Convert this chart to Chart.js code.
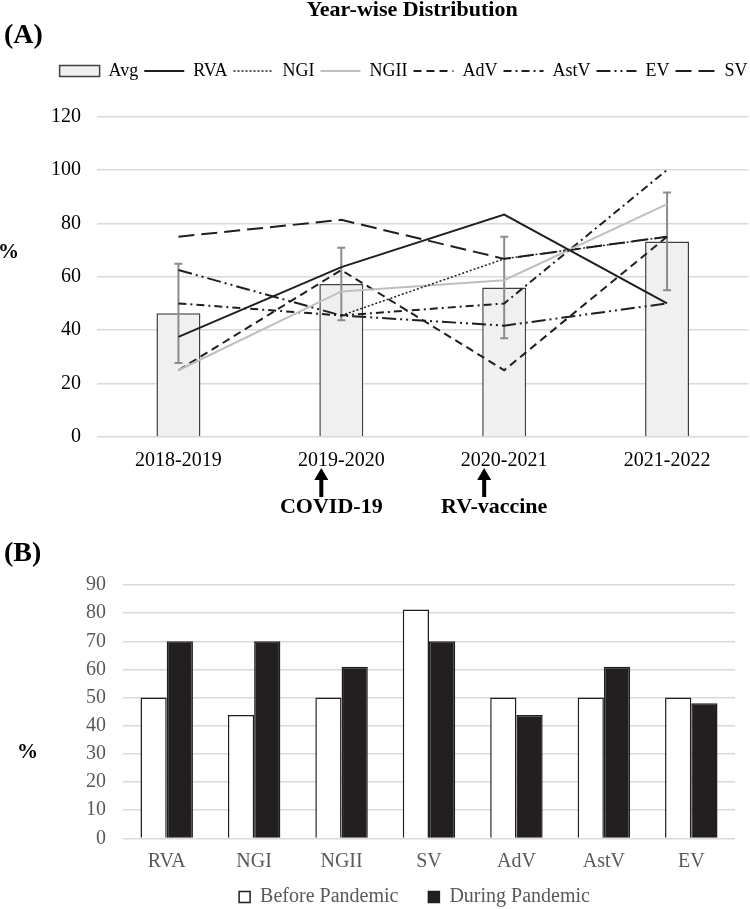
<!DOCTYPE html>
<html>
<head>
<meta charset="utf-8">
<script src="https://cdn.jsdelivr.net/npm/chart.js@4.4.1/dist/chart.umd.min.js"></script>
<style>
  html, body { margin: 0; padding: 0; background: #fff; overflow: hidden; }
  .panel { position: absolute; left: 0; width: 750px; }
  #panelA { top: 0; height: 530px; }
  #panelB { top: 530px; height: 379px; }
</style>
</head>
<body>
<div class="panel" id="panelA"><canvas id="chartA" width="750" height="530"></canvas></div>
<div class="panel" id="panelB"><canvas id="chartB" width="750" height="379"></canvas></div>
<script>
// ========== DATA ==========
const SEASONS = ["2018-2019", "2019-2020", "2020-2021", "2021-2022"];
const AVG = [46.3, 57.3, 56.0, 73.2];
const AVG_ERR = [18.6, 13.6, 19.0, 18.3];
const RVA = [37.5, 63.6, 83.3, 50];
const NGI = [null, 45.5, 66.7, 75];
const NGII = [25, 54.5, 58.7, 87.2];
const ADV = [25, 62.5, 25, 75];
const ASTV = [50, 45.5, 50, 100];
const EV = [62.5, 45.5, 41.7, 50];
const SV = [75, 81.3, 66.7, 75];
const EVENT_SEASONS = ["2019-2020", "2020-2021"];
const EVENT_LABELS = ["COVID-19", "RV-vaccine"];

const VIRUSES = ["RVA", "NGI", "NGII", "SV", "AdV", "AstV", "EV"];
const BEFORE = [50, 43.8, 50, 81.3, 50, 50, 50];
const DURING = [70, 70, 61, 70, 43.8, 61, 48];

// ========== STYLES ==========
const SERIF = "'Liberation Serif', 'Times New Roman', serif";
const GRID = "#d9d9d9";
const INK = "#1f1f1f";
Chart.defaults.font.family = SERIF;

const lineDataset = (label, data, color, dash, width) => ({
  type: "line",
  label,
  data,
  borderColor: color,
  backgroundColor: color,
  borderDash: dash,
  borderWidth: width,
  pointRadius: 0,
  tension: 0,
  fill: false,
  spanGaps: false,
  order: 1,
});

// ========== PLUGINS ==========
// resizes / moves the built-in legend box
const legendPlace = {
  id: "legendPlace",
  beforeInit(chart, args, opts) {
    const fit = chart.legend.fit;
    chart.legend.fit = function () {
      fit.call(this);
      this.height += opts.extra || 0;
    };
  },
  afterLayout(chart, args, opts) {
    const lg = chart.legend;
    const dx = opts.dx || 0;
    lg.left += dx;
    lg.right += dx;
    lg.top += opts.dtop || 0;
    lg.bottom += opts.dbottom || 0;
  },
};

const errorBars = {
  id: "errorBars",
  afterDatasetDraw(chart, args, opts) {
    if (args.index !== 0) {
      return;
    }
    const { ctx } = chart;
    const x = chart.scales.x;
    const y = chart.scales.y;
    ctx.save();
    ctx.strokeStyle = opts.color;
    ctx.lineWidth = opts.width;
    AVG.forEach((v, i) => {
      const px = x.getPixelForValue(i);
      const top = y.getPixelForValue(v + AVG_ERR[i]);
      const bot = y.getPixelForValue(v - AVG_ERR[i]);
      ctx.beginPath();
      ctx.moveTo(px, top);
      ctx.lineTo(px, bot);
      ctx.moveTo(px - opts.cap, top);
      ctx.lineTo(px + opts.cap, top);
      ctx.moveTo(px - opts.cap, bot);
      ctx.lineTo(px + opts.cap, bot);
      ctx.stroke();
    });
    ctx.restore();
  },
};

const decorA = {
  id: "decorA",
  afterDraw(chart) {
    const { ctx } = chart;
    const x = chart.scales.x;
    ctx.save();
    ctx.fillStyle = "#000";
    ctx.textBaseline = "alphabetic";
    ctx.textAlign = "center";
    ctx.font = `bold 22px ${SERIF}`;
    ctx.fillText("Year-wise Distribution", 412, 16);
    ctx.textAlign = "left";
    ctx.font = `bold 28px ${SERIF}`;
    ctx.fillText("(A)", 4, 43);
    ctx.font = `bold 21px ${SERIF}`;
    ctx.textBaseline = "middle";
    ctx.fillText("%", -2, 253);

    // event arrows under the season labels
    EVENT_SEASONS.forEach((season, i) => {
      const tick = x.getPixelForValue(SEASONS.indexOf(season));
      const ax = tick - 20;
      ctx.beginPath();
      ctx.moveTo(ax, 468);
      ctx.lineTo(ax - 7, 480);
      ctx.lineTo(ax + 7, 480);
      ctx.closePath();
      ctx.fill();
      ctx.fillRect(ax - 2, 478, 4, 19);
      ctx.textAlign = "center";
      ctx.textBaseline = "alphabetic";
      ctx.font = `bold 22px ${SERIF}`;
      ctx.fillText(EVENT_LABELS[i], tick - 10, 513);
    });
    ctx.restore();
  },
};

const decorB = {
  id: "decorB",
  afterDraw(chart) {
    const { ctx } = chart;
    ctx.save();
    ctx.fillStyle = "#000";
    ctx.textAlign = "left";
    ctx.textBaseline = "alphabetic";
    ctx.font = `bold 28px ${SERIF}`;
    ctx.fillText("(B)", 4, 31);
    ctx.font = `bold 21px ${SERIF}`;
    ctx.textBaseline = "middle";
    ctx.fillText("%", 17, 223);
    ctx.restore();
  },
};

// ========== PANEL A ==========
const datasetsA = [
  {
    type: "bar",
    label: "Avg",
    data: AVG,
    backgroundColor: "#f0f0f0",
    borderColor: "#404040",
    borderWidth: 1.5,
    barPercentage: 0.27,
    categoryPercentage: 1,
    order: 2,
  },
  lineDataset("RVA", RVA, INK, [], 2),
  lineDataset("NGI", NGI, INK, [2, 2], 1.5),
  lineDataset("NGII", NGII, "#bfbfbf", [], 2),
  lineDataset("AdV", ADV, INK, [8, 5], 2),
  lineDataset("AstV", ASTV, INK, [8, 4, 2, 4], 2),
  lineDataset("EV", EV, INK, [14, 4, 2, 4, 2, 4], 2),
  lineDataset("SV", SV, INK, [16, 7], 2),
];

new Chart(document.getElementById("chartA"), {
  data: { labels: SEASONS, datasets: datasetsA },
  options: {
    responsive: false,
    animation: false,
    layout: { padding: { top: 56, bottom: 45, left: 0, right: 1.5 } },
    scales: {
      x: {
        grid: { display: false, drawTicks: false },
        border: { display: false },
        ticks: { color: "#000", font: { size: 20 }, padding: 12 },
      },
      y: {
        min: 0,
        max: 120,
        ticks: { stepSize: 20, autoSkip: false, color: "#000", font: { size: 20 }, padding: 16 },
        grid: { color: GRID, lineWidth: 1.5, drawTicks: false },
        border: { display: false },
        afterFit: (scale) => {
          scale.width = 97;
        },
      },
    },
    plugins: {
      tooltip: { enabled: false },
      legend: {
        align: "end",
        labels: {
          usePointStyle: true,
          pointStyleWidth: 40,
          boxHeight: 11,
          padding: 6,
          color: "#000",
          font: { size: 18 },
          generateLabels: (chart) =>
            chart.data.datasets.map((ds, i) => ({
              text: ds.label,
              fillStyle: ds.type === "bar" ? ds.backgroundColor : "rgba(0,0,0,0)",
              strokeStyle: ds.borderColor,
              lineWidth: ds.type === "bar" ? 1.5 : ds.borderWidth,
              lineDash: ds.borderDash || [],
              pointStyle: ds.type === "bar" ? "rect" : "line",
              fontColor: "#000",
              hidden: false,
              datasetIndex: i,
            })),
        },
      },
      legendPlace: { extra: 26.5, dx: 5 },
      errorBars: { color: "#8c8c8c", width: 2, cap: 4 },
    },
  },
  plugins: [legendPlace, errorBars, decorA],
});

// ========== PANEL B ==========
new Chart(document.getElementById("chartB"), {
  type: "bar",
  data: {
    labels: VIRUSES,
    datasets: [
      {
        label: "Before Pandemic",
        data: BEFORE,
        backgroundColor: "#ffffff",
        borderColor: INK,
        borderWidth: 1.5,
        categoryPercentage: 0.6,
        barPercentage: 1,
      },
      {
        label: "During Pandemic",
        data: DURING,
        backgroundColor: "#231f20",
        borderColor: INK,
        borderWidth: 1.5,
        categoryPercentage: 0.6,
        barPercentage: 1,
      },
    ],
  },
  options: {
    responsive: false,
    animation: false,
    layout: { padding: { top: 55, bottom: 0, left: 0, right: 15 } },
    scales: {
      x: {
        grid: { display: false, drawTicks: false },
        border: { display: false },
        ticks: { color: "#595959", font: { size: 20 }, padding: 11 },
      },
      y: {
        min: 0,
        max: 90,
        ticks: { stepSize: 10, autoSkip: false, color: "#595959", font: { size: 20 }, padding: 17 },
        grid: { color: GRID, lineWidth: 1.5, drawTicks: false },
        border: { display: false },
        afterFit: (scale) => {
          scale.width = 123;
        },
      },
    },
    plugins: {
      tooltip: { enabled: false },
      legend: {
        position: "bottom",
        labels: {
          boxWidth: 11,
          boxHeight: 11,
          padding: 30,
          color: "#595959",
          font: { size: 20 },
        },
      },
      legendPlace: { extra: -35.4, dx: 47, dtop: -27.4, dbottom: 0 },
    },
  },
  plugins: [legendPlace, decorB],
});
</script>
</body>
</html>
